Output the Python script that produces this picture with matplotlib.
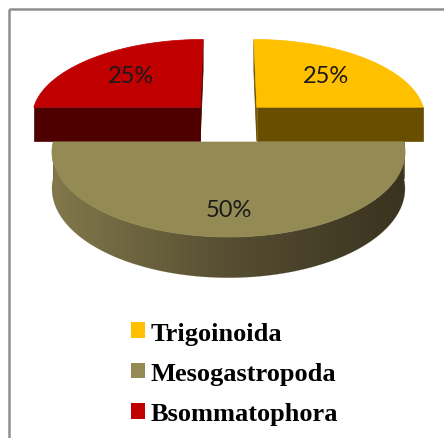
import numpy as np
import matplotlib.pyplot as plt
from matplotlib.patches import Polygon, Patch

# Data
labels = ["Trigoinoida", "Mesogastropoda", "Bsommatophora"]
values = [25, 50, 25]
explode = [1, 0, 1]
top_colors = ["#FFC000", "#948A54", "#C00000"]
side_colors = ["#6A4E00", "#5A5236", "#4E0000"]

# 3D pie geometry (pixel space)
cx, cy = 228.5, 143.0      # centre of the top face
rx, ry = 175.2, 83.6       # disc radii
k = 0.12                   # perspective strength
depth = 35.8               # thickness
ex, ey = 0.24, 0.62        # explode offsets along the bisector
label_r = [0.63, 0.74, 0.63]

# shading of the curved wall, left -> middle -> right
wall_light = np.array([0x82, 0x78, 0x4B]) / 255
wall_mid = np.array([0x56, 0x4E, 0x32]) / 255
wall_dark = np.array([0x39, 0x33, 0x1F]) / 255


def proj(u, v, z=0.0):
    s = 1.0 / (1.0 + k * v)
    return cx + rx * u * s, cy - ry * v * s + depth * z * s


fig = plt.figure(figsize=(4.44, 4.39), dpi=100)
ax = fig.add_axes([0, 0, 1, 1])
ax.set_xlim(0, 444)
ax.set_ylim(439, 0)
ax.axis("off")

# frame lines (left and top only)
ax.plot([9, 9], [10, 439], color="#8E8E8E", lw=1.8, solid_capstyle="butt")
ax.plot([9, 444], [10, 10], color="#8E8E8E", lw=1.8, solid_capstyle="butt")

# slice angles: start at 12 o'clock, clockwise
total = sum(values)
angles = []
start = 90.0
for v in values:
    end = start - 360.0 * v / total
    angles.append((start, end))
    start = end

# draw back slices first
order = sorted(range(len(values)),
               key=lambda i: -np.sin(np.radians(sum(angles[i]) / 2)))

for i in order:
    a0, a1 = angles[i]
    mid = np.radians((a0 + a1) / 2)
    du = explode[i] * ex * np.cos(mid)
    dv = explode[i] * ey * np.sin(mid)
    th = np.radians(np.linspace(a0, a1, 300))
    arc_u = du + np.cos(th)
    arc_v = dv + np.sin(th)

    # radial side walls
    for ang in (a0, a1):
        t = np.radians(ang)
        eu, ev = du + np.cos(t), dv + np.sin(t)
        pts = [proj(du, dv, 0), proj(eu, ev, 0), proj(eu, ev, 1), proj(du, dv, 1)]
        ax.add_patch(Polygon(pts, closed=True, facecolor=side_colors[i],
                             edgecolor=side_colors[i], lw=0.5))

    # curved outer wall (front part only) with a left-to-right shade
    front = np.sin(th) < 1e-9
    if front.sum() > 1:
        fu, fv = arc_u[front], arc_v[front]
        top = [proj(u, v, 0) for u, v in zip(fu, fv)]
        bot = [proj(u, v, 1) for u, v in zip(fu, fv)][::-1]
        wall = Polygon(top + bot, closed=True, facecolor="none", edgecolor="none")
        ax.add_patch(wall)
        xs = np.array([p[0] for p in top + bot])
        ys = np.array([p[1] for p in top + bot])
        gx = np.linspace(0, 1, 256)
        grad = np.where(gx[:, None] < 0.5,
                        wall_light + (wall_mid - wall_light) * (gx[:, None] / 0.5),
                        wall_mid + (wall_dark - wall_mid) * ((gx[:, None] - 0.5) / 0.5))
        img = ax.imshow(grad[None, :, :], extent=(xs.min(), xs.max(), ys.max(), ys.min()),
                        aspect="auto", interpolation="bilinear", zorder=1)
        img.set_clip_path(wall)
        ax.add_patch(Polygon(top + bot, closed=True, facecolor="none",
                             edgecolor=wall_mid, lw=0.3, zorder=1, alpha=0.4))

    # top face
    pts = [proj(du, dv)] + [proj(u, v) for u, v in zip(arc_u, arc_v)]
    ax.add_patch(Polygon(pts, closed=True, facecolor=top_colors[i],
                         edgecolor=top_colors[i], lw=0.5, zorder=1))

    # percentage label
    lu = du + label_r[i] * np.cos(mid)
    lv = dv + label_r[i] * np.sin(mid)
    tx, ty = proj(lu, lv)
    ax.text(tx, ty, f"{values[i] / total:.0%}", ha="center", va="center",
            fontsize=17, family="Lato", color="#1A1A1A", zorder=3)

ax.set_xlim(0, 444)
ax.set_ylim(439, 0)

handles = [Patch(facecolor=c, edgecolor="none") for c in top_colors]
ax.legend(handles, labels, loc="upper left", bbox_to_anchor=(0.295, 0.265),
          frameon=False, prop={"family": "Liberation Serif", "weight": "bold", "size": 19},
          handlelength=0.55, handleheight=0.55, handletextpad=0.18,
          labelspacing=0.65, borderpad=0, borderaxespad=0)

fig.savefig("out.png", dpi=100)
